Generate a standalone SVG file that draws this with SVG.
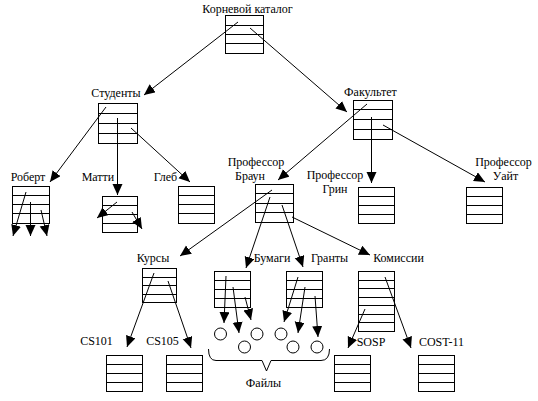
<svg xmlns="http://www.w3.org/2000/svg" width="538" height="401" viewBox="0 0 538 401">
<style>
.box{fill:#fff;stroke:#000;stroke-width:1}
.row{stroke:#000;stroke-width:1}
.lbl{font-size:12px;fill:#000;text-anchor:middle}
.edge{stroke:#000;stroke-width:1;fill:none;marker-end:url(#ah)}
.file{fill:#fff;stroke:#000;stroke-width:1}
</style>
<defs>
<marker id="ah" markerUnits="userSpaceOnUse" markerWidth="12" markerHeight="11" refX="11" refY="5" orient="auto">
<path d="M0,0 L11,5 L0,10 z" fill="#000"/>
</marker>
</defs>
<rect width="538" height="401" fill="#fff"/>
<g font-family="Liberation Serif, Times New Roman, serif">
<g id="root">
<text class="lbl" x="247.5" y="13">Корневой каталог</text>
<rect class="box" x="225.5" y="15.5" width="38" height="38"/>
<path class="row" d="M225.5,25.5H263.5M225.5,34.5H263.5M225.5,43.5H263.5"/>
</g>
<g id="students">
<text class="lbl" x="116" y="97">Студенты</text>
<rect class="box" x="98.5" y="103.5" width="39" height="40"/>
<path class="row" d="M98.5,113.5H137.5M98.5,123.5H137.5M98.5,133.5H137.5"/>
</g>
<g id="faculty">
<text class="lbl" x="370.5" y="96">Факультет</text>
<rect class="box" x="353.5" y="100.5" width="39" height="39"/>
<path class="row" d="M353.5,109.5H392.5M353.5,119.5H392.5M353.5,129.5H392.5"/>
</g>
<g id="robert">
<text class="lbl" x="28" y="181">Роберт</text>
<rect class="box" x="12.5" y="186.5" width="37" height="37"/>
<path class="row" d="M12.5,195.5H49.5M12.5,204.5H49.5M12.5,213.5H49.5"/>
</g>
<g id="matti">
<text class="lbl" x="98" y="181">Матти</text>
<rect class="box" x="102.5" y="196.5" width="35" height="36"/>
<path class="row" d="M102.5,205.5H137.5M102.5,214.5H137.5M102.5,223.5H137.5"/>
</g>
<g id="gleb">
<text class="lbl" x="165.5" y="181">Глеб</text>
<rect class="box" x="178.5" y="186.5" width="36" height="37"/>
<path class="row" d="M178.5,195.5H214.5M178.5,204.5H214.5M178.5,213.5H214.5"/>
</g>
<g id="brown">
<text class="lbl" x="256" y="166">Профессор</text>
<text class="lbl" x="250" y="180">Браун</text>
<rect class="box" x="255.5" y="184.5" width="38" height="38"/>
<path class="row" d="M255.5,193.5H293.5M255.5,203.5H293.5M255.5,212.5H293.5"/>
</g>
<g id="green">
<text class="lbl" x="335" y="179">Профессор</text>
<text class="lbl" x="335" y="193">Грин</text>
<rect class="box" x="358.5" y="187.5" width="36" height="36"/>
<path class="row" d="M358.5,196.5H394.5M358.5,205.5H394.5M358.5,214.5H394.5"/>
</g>
<g id="white">
<text class="lbl" x="503.5" y="166">Профессор</text>
<text class="lbl" x="505.5" y="180">Уайт</text>
<rect class="box" x="466.5" y="187.5" width="36" height="36"/>
<path class="row" d="M466.5,196.5H502.5M466.5,205.5H502.5M466.5,214.5H502.5"/>
</g>
<g id="courses">
<text class="lbl" x="153" y="262">Курсы</text>
<rect class="box" x="142.5" y="268.5" width="34" height="34"/>
<path class="row" d="M142.5,277.5H176.5M142.5,285.5H176.5M142.5,294.5H176.5"/>
</g>
<g id="papers">
<text class="lbl" x="272" y="262">Бумаги</text>
<rect class="box" x="214.5" y="271.5" width="36" height="36"/>
<path class="row" d="M214.5,280.5H250.5M214.5,289.5H250.5M214.5,298.5H250.5"/>
</g>
<g id="grants">
<text class="lbl" x="329.5" y="262">Гранты</text>
<rect class="box" x="286.5" y="271.5" width="36" height="36"/>
<path class="row" d="M286.5,280.5H322.5M286.5,289.5H322.5M286.5,298.5H322.5"/>
</g>
<g id="committees">
<text class="lbl" x="398.5" y="262">Комиссии</text>
<rect class="box" x="358.5" y="271.5" width="36" height="60"/>
<path class="row" d="M358.5,280.5H394.5M358.5,288.5H394.5M358.5,297.5H394.5M358.5,305.5H394.5M358.5,314.5H394.5M358.5,322.5H394.5"/>
</g>
<g id="cs101">
<text class="lbl" x="96.5" y="345">CS101</text>
<rect class="box" x="106.5" y="355.5" width="36" height="36"/>
<path class="row" d="M106.5,364.5H142.5M106.5,373.5H142.5M106.5,382.5H142.5"/>
</g>
<g id="cs105">
<text class="lbl" x="162.5" y="345">CS105</text>
<rect class="box" x="166.5" y="355.5" width="36" height="36"/>
<path class="row" d="M166.5,364.5H202.5M166.5,373.5H202.5M166.5,382.5H202.5"/>
</g>
<g id="sosp">
<text class="lbl" x="371" y="346">SOSP</text>
<rect class="box" x="334.5" y="355.5" width="36" height="36"/>
<path class="row" d="M334.5,364.5H370.5M334.5,373.5H370.5M334.5,382.5H370.5"/>
</g>
<g id="cost11">
<text class="lbl" x="441.5" y="346">COST-11</text>
<rect class="box" x="418.5" y="355.5" width="36" height="36"/>
<path class="row" d="M418.5,364.5H454.5M418.5,373.5H454.5M418.5,382.5H454.5"/>
</g>
<g id="files">
<circle class="file" cx="220.5" cy="334" r="6"/>
<circle class="file" cx="244.5" cy="347" r="6"/>
<circle class="file" cx="257" cy="334" r="6"/>
<circle class="file" cx="281" cy="334" r="6"/>
<circle class="file" cx="293" cy="347" r="6"/>
<circle class="file" cx="317" cy="347" r="6"/>
<path d="M208.5,349 Q208.5,360.5 216,360.5 L262,360.5 L266.5,371 L271,360.5 L321,360.5 Q329.5,360.5 329.5,349" fill="none" stroke="#000" stroke-width="1"/>
<text class="lbl" x="263.5" y="387">Файлы</text>
</g>
</g>
<g id="connectors">
<line class="edge" x1="238" y1="22" x2="144" y2="95"/>
<line class="edge" x1="250" y1="28" x2="347" y2="112"/>
<line class="edge" x1="106" y1="107" x2="50" y2="182"/>
<line class="edge" x1="117.5" y1="118" x2="117.5" y2="195"/>
<line class="edge" x1="131" y1="128" x2="190" y2="182"/>
<line class="edge" x1="26" y1="192" x2="13" y2="236"/>
<line class="edge" x1="30.5" y1="202" x2="30.5" y2="236"/>
<line class="edge" x1="41" y1="210" x2="47" y2="236"/>
<line class="edge" x1="117" y1="202" x2="97" y2="218"/>
<line class="edge" x1="132" y1="212" x2="142" y2="229"/>
<line class="edge" x1="367" y1="104" x2="278" y2="180"/>
<line class="edge" x1="371.5" y1="117" x2="371.5" y2="183"/>
<line class="edge" x1="383" y1="125" x2="485" y2="182"/>
<line class="edge" x1="272" y1="190" x2="180" y2="256"/>
<line class="edge" x1="270" y1="197" x2="246" y2="268"/>
<line class="edge" x1="282" y1="205" x2="303" y2="267"/>
<line class="edge" x1="292" y1="217" x2="370" y2="255"/>
<line class="edge" x1="154" y1="273" x2="127" y2="347"/>
<line class="edge" x1="168" y1="281" x2="191" y2="348"/>
<line class="edge" x1="226" y1="276" x2="224" y2="323"/>
<line class="edge" x1="233" y1="287" x2="239" y2="333"/>
<line class="edge" x1="245" y1="297" x2="251" y2="320"/>
<line class="edge" x1="298" y1="277" x2="284" y2="322"/>
<line class="edge" x1="305" y1="287" x2="298" y2="333"/>
<line class="edge" x1="315" y1="296" x2="318" y2="337"/>
<line class="edge" x1="365" y1="309" x2="348" y2="348"/>
<line class="edge" x1="385" y1="277" x2="411" y2="348"/>
</g>
</svg>
